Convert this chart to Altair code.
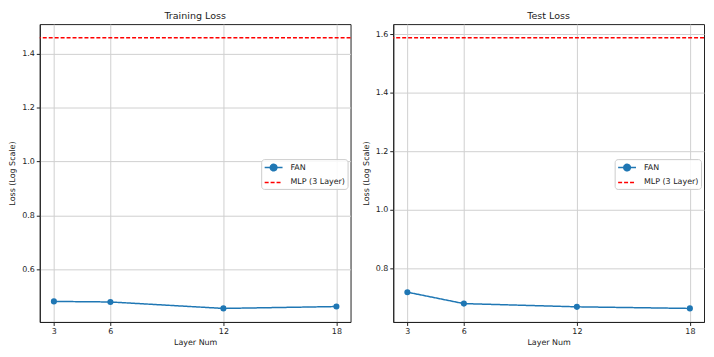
import altair as alt
import pandas as pd

layers = [3, 6, 12, 18]
fan_train = [0.480, 0.478, 0.454, 0.461]
fan_test = [0.719, 0.680, 0.669, 0.6635]
mlp_train = 1.460
mlp_test = 1.589
series_names = ["FAN", "MLP (3 Layer)"]
series_colors = ["#1f77b4", "#ff0000"]
series_dashes = [[1, 0], [4, 2]]
train_ticks = [0.6, 0.8, 1.0, 1.2, 1.4]
test_ticks = [0.8, 1.0, 1.2, 1.4, 1.6]

FONT = "DejaVu Sans"

fan_path = "M-1.8,0H1.8M0.66,0A0.66,0.66,0,1,1,-0.66,0A0.66,0.66,0,1,1,0.66,0Z"
mlp_path = "M-1.8,0H1.8"


def panel(title, fan_vals, mlp_val, ticks):
    df = pd.DataFrame({"layer": layers, "loss": fan_vals, "series": "FAN"})
    mdf = pd.DataFrame({"loss": [mlp_val], "series": ["MLP (3 Layer)"]})
    lo = min(fan_vals + [mlp_val])
    hi = max(fan_vals + [mlp_val])
    m = (hi - lo) * 0.05
    ydom = [lo - m, hi + m]
    xs = alt.Scale(domain=[2.25, 18.75], nice=False, zero=False)
    ys = alt.Scale(domain=ydom, nice=False, zero=False)
    leg = alt.Legend(title=None, orient="none", legendX=223, legendY=136)
    color = alt.Color(
        "series:N",
        scale=alt.Scale(domain=series_names, range=series_colors),
        legend=leg,
    )
    dash = alt.StrokeDash(
        "series:N",
        scale=alt.Scale(domain=series_names, range=series_dashes),
        legend=leg,
    )
    shape = alt.Shape(
        "series:N",
        scale=alt.Scale(domain=series_names, range=[fan_path, mlp_path]),
        legend=leg,
    )
    xenc = alt.X(
        "layer:Q",
        scale=xs,
        axis=alt.Axis(values=layers, format="d", title="Layer Num"),
    )
    yenc = alt.Y(
        "loss:Q",
        scale=ys,
        axis=alt.Axis(values=ticks, format=".1f", title="Loss (Log Scale)"),
    )
    pts = alt.Chart(df).mark_point(filled=True, size=36, opacity=0, strokeWidth=0).encode(
        x=xenc, y=yenc, color=color, shape=shape
    )
    line = alt.Chart(df).mark_line(strokeWidth=1.5).encode(
        x=xenc, y=yenc, color=color, strokeDash=dash
    )
    dots = alt.Chart(df).mark_circle(size=38, opacity=1).encode(
        x=xenc, y=yenc, color=alt.value("#1f77b4")
    )
    rule = alt.Chart(mdf).mark_rule(strokeWidth=1.5).encode(
        y=alt.Y("loss:Q", scale=ys), color=color, strokeDash=dash
    )
    return alt.layer(pts, line, dots, rule).properties(
        width=313,
        height=300,
        title=alt.TitleParams(title, fontSize=9.6, font=FONT, fontWeight="normal", offset=4),
    )


left = panel("Training Loss", fan_train, mlp_train, train_ticks)
right = panel("Test Loss", fan_test, mlp_test, test_ticks)

chart = (
    alt.hconcat(left, right, spacing=9)
    .resolve_scale(color="independent", y="independent", x="independent",
                   strokeDash="independent", shape="independent")
    .resolve_legend(color="independent", strokeDash="independent", shape="independent")
    .properties(padding=0)
    .configure_view(stroke="#222222", strokeWidth=1)
    .configure_axis(
        labelFont=FONT,
        titleFont=FONT,
        labelFontSize=8,
        titleFontSize=8,
        titleFontWeight="normal",
        labelColor="#222222",
        titleColor="#222222",
        domainColor="#222222",
        tickColor="#222222",
        tickSize=3.5,
        labelPadding=2,
        gridColor="#d0d0d0",
        gridWidth=1,
    )
    .configure_axisY(titlePadding=5)
    .configure_axisX(titlePadding=3)
    .configure_legend(
        labelFont=FONT,
        labelFontSize=8,
        labelColor="#222222",
        padding=2.5,
        rowPadding=2,
        labelOffset=11,
        symbolOffset=4,
        strokeColor="#cccccc",
        fillColor="rgba(255,255,255,0.85)",
        cornerRadius=3,
        symbolSize=100,
        symbolStrokeWidth=1.5,
        symbolOpacity=1,
    )
    .configure_title(color="#222222")
)

chart.save("out.html", embed_options={"renderer": "svg", "actions": False})
